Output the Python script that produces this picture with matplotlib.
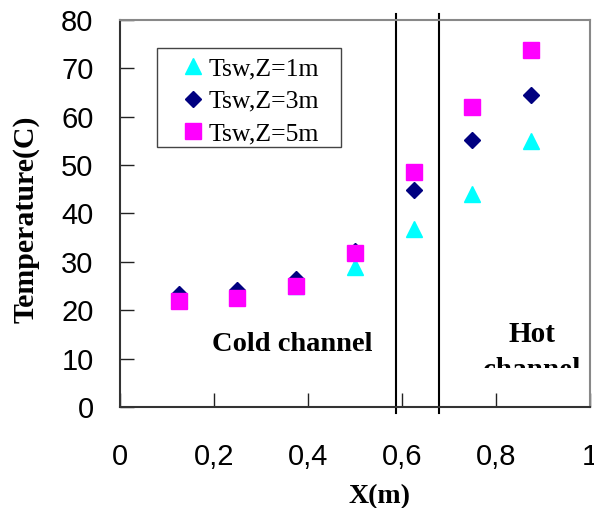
import matplotlib.pyplot as plt
from matplotlib.patches import Rectangle
from matplotlib.transforms import Bbox, TransformedBbox
from matplotlib.ticker import FuncFormatter

# position along channel (m)
x = [0.125, 0.25, 0.375, 0.5, 0.625, 0.75, 0.875]
# wall temperature at three heights (C)
t_z1 = [22.0, 23.0, 25.0, 29.0, 36.7, 43.9, 55.0]
t_z3 = [23.4, 24.2, 26.5, 32.2, 44.9, 55.2, 64.5]
t_z5 = [21.8, 22.6, 25.0, 31.9, 48.5, 62.0, 73.8]
labels = ["Tsw,Z=1m", "Tsw,Z=3m", "Tsw,Z=5m"]
# channel borders
walls = [0.587, 0.679]

serif = "Liberation Serif"
sans = "Liberation Sans"

fig = plt.figure(figsize=(5.94, 5.08), dpi=100)
ax = fig.add_axes([0.202, 0.199, 0.791, 0.762])

ax.plot(x, t_z1, linestyle='none', marker='^', ms=12, color='#00FFFF', label=labels[0])
ax.plot(x, t_z3, linestyle='none', marker='D', ms=8.5, color='#000080', label=labels[1])
ax.plot(x, t_z5, linestyle='none', marker='s', ms=12, color='#FF00FF', label=labels[2])

for w in walls:
    ax.plot([w, w], [-1.3, 81.3], color='black', lw=1.5, clip_on=False)

ax.set_xlim(0, 1)
ax.set_ylim(0, 80)
ax.set_xticks([0, 0.2, 0.4, 0.6, 0.8, 1])
ax.set_yticks(range(0, 81, 10))
ax.xaxis.set_major_formatter(FuncFormatter(lambda v, p: ('%g' % v).replace('.', ',')))
ax.tick_params(axis='both', direction='in', length=10, width=1, color='#222',
               labelsize=21)
ax.tick_params(axis='x', pad=26)
ax.tick_params(axis='y', pad=19)
for lab in ax.get_xticklabels() + ax.get_yticklabels():
    lab.set_fontfamily(sans)

for s in ['left', 'bottom']:
    ax.spines[s].set_color('#333')
    ax.spines[s].set_linewidth(1.5)
for s in ['top', 'right']:
    ax.spines[s].set_color('#888')
    ax.spines[s].set_linewidth(1.5)

ax.set_xlabel("X(m)", fontsize=20, fontweight='bold', fontfamily=serif)
ax.xaxis.set_label_coords(0.553, -0.199)
ax.set_ylabel("Temperature(C)", fontsize=21.5, fontweight='bold', fontfamily=serif)
ax.yaxis.set_label_coords(-0.172, 0.486)

ax.text(0.366, 13.0, "Cold channel", fontsize=20.5, fontweight='bold',
        fontfamily=serif, ha='center', va='center')
ax.text(0.877, 14.9, "Hot", fontsize=21, fontweight='bold',
        fontfamily=serif, ha='center', va='center')
# second line is cut off in the original
t2 = ax.text(0.877, 6.0, "channel", fontsize=21, fontweight='bold',
             fontfamily=serif, ha='center', va='baseline', clip_on=True)
t2.set_clip_box(TransformedBbox(Bbox([[0.6, 8.0], [1.0, 30.0]]), ax.transData))

# legend frame drawn separately (box is wider than the entries)
ax.add_patch(Rectangle((0.0787, 0.672), 0.3915, 0.256, transform=ax.transAxes,
                       fill=True, facecolor='white', edgecolor='#444', lw=1, zorder=4))
leg = ax.legend(loc='upper left', bbox_to_anchor=(0.128, 0.904), borderaxespad=0,
                frameon=False, prop={'family': serif, 'size': 18.5}, handlelength=1.0,
                handletextpad=0.09, labelspacing=0.38, borderpad=0)
leg.set_zorder(5)

fig.savefig("out.png", dpi=100)
